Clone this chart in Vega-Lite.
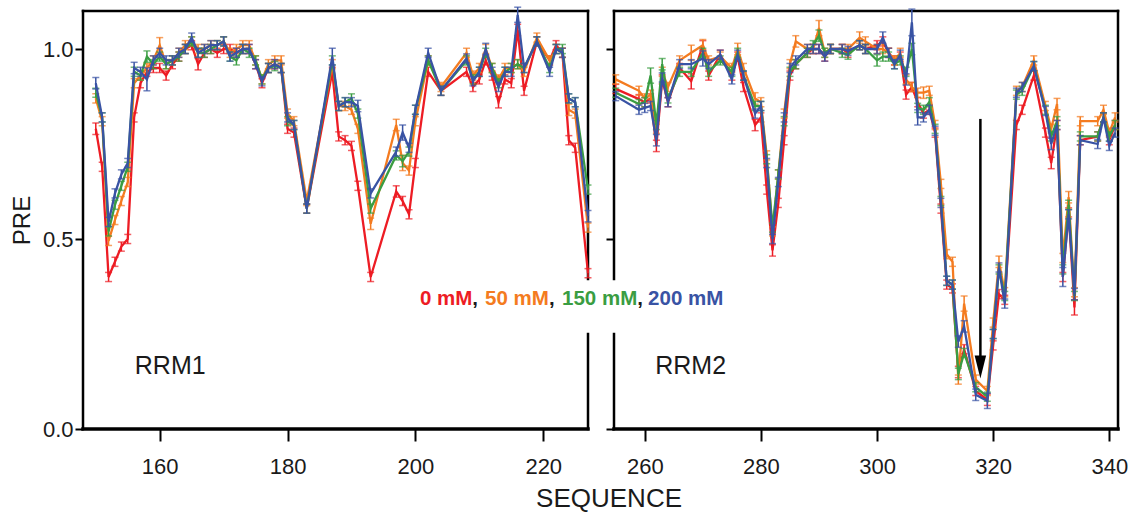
{
  "$schema": "https://vega.github.io/schema/vega-lite/v6.json",
  "background": "white",
  "padding": {"left": 10, "top": 6, "right": 0, "bottom": 0},
  "config": {
    "view": {"stroke": null},
    "axis": {"grid": false, "domain": false, "labelFont": "Liberation Sans", "labelFontSize": 22, "labelColor": "#1a1a1a", "tickColor": "#000000", "tickWidth": 2, "titleFont": "Liberation Sans", "titleFontSize": 24, "titleFontWeight": "normal", "titleColor": "#1a1a1a"},
    "text": {"font": "Liberation Sans"}
  },
  "title": {"text": "SEQUENCE", "orient": "bottom", "anchor": "middle", "font": "Liberation Sans", "fontSize": 26, "fontWeight": "normal", "color": "#1a1a1a", "offset": 9, "dx": 40},
  "spacing": 26,
  "bounds": "flush",
  "datasets": {
    "notes": [
      {"kind": "frame", "panel": "RRM1", "res": 148, "res2": 148, "pre": 0, "pre2": 1.1},
      {"kind": "frame", "panel": "RRM1", "res": 148, "res2": 227, "pre": 1.1, "pre2": 1.1},
      {"kind": "frame", "panel": "RRM1", "res": 227, "res2": 227, "pre": 1.1, "pre2": 0.395},
      {"kind": "frame", "panel": "RRM1", "res": 227, "res2": 227, "pre": 0.25, "pre2": 0},
      {"kind": "base", "panel": "RRM1", "res": 148, "res2": 227, "pre": 0, "pre2": 0},
      {"kind": "frame", "panel": "RRM2", "res": 254.7, "res2": 254.7, "pre": 1.1, "pre2": 0.395},
      {"kind": "frame", "panel": "RRM2", "res": 254.7, "res2": 254.7, "pre": 0.25, "pre2": 0},
      {"kind": "frame", "panel": "RRM2", "res": 254.7, "res2": 341.5, "pre": 1.1, "pre2": 1.1},
      {"kind": "frame", "panel": "RRM2", "res": 341.5, "res2": 341.5, "pre": 1.1, "pre2": 0},
      {"kind": "base", "panel": "RRM2", "res": 254.7, "res2": 341.5, "pre": 0, "pre2": 0},
      {"kind": "name", "panel": "RRM1", "res": 156.1, "pre": 0.166, "label": "RRM1"},
      {"kind": "name", "panel": "RRM2", "res": 261.8, "pre": 0.166, "label": "RRM2"},
      {"kind": "legend", "panel": "RRM1", "res": 200.72, "pre": 0.342, "label": "0 mM", "salt": "0 mM"},
      {"kind": "comma", "panel": "RRM1", "res": 208.9, "pre": 0.342, "label": ","},
      {"kind": "legend", "panel": "RRM1", "res": 210.9, "pre": 0.342, "label": "50 mM", "salt": "50 mM"},
      {"kind": "comma", "panel": "RRM1", "res": 220.9, "pre": 0.342, "label": ","},
      {"kind": "legend", "panel": "RRM1", "res": 222.94, "pre": 0.342, "label": "150 mM", "salt": "150 mM"},
      {"kind": "comma", "panel": "RRM1", "res": 234.7, "pre": 0.342, "label": ","},
      {"kind": "legend", "panel": "RRM1", "res": 236.4, "pre": 0.342, "label": "200 mM", "salt": "200 mM"},
      {"kind": "arrow", "panel": "RRM2", "res": 317.8, "pre": 0.816, "pre2": 0.19},
      {"kind": "head", "panel": "RRM2", "res": 317.8, "pre": 0.163}
    ],
    "pre": [
      {"panel":"RRM1","salt":"0 mM","res":150,"pre":0.79,"err":0.015},
      {"panel":"RRM1","salt":"0 mM","res":151,"pre":0.69,"err":0.012},
      {"panel":"RRM1","salt":"0 mM","res":152,"pre":0.40,"err":0.012},
      {"panel":"RRM1","salt":"0 mM","res":153,"pre":0.44,"err":0.012},
      {"panel":"RRM1","salt":"0 mM","res":154,"pre":0.48,"err":0.012},
      {"panel":"RRM1","salt":"0 mM","res":155,"pre":0.50,"err":0.012},
      {"panel":"RRM1","salt":"0 mM","res":156,"pre":0.82,"err":0.012},
      {"panel":"RRM1","salt":"0 mM","res":157,"pre":0.91,"err":0.012},
      {"panel":"RRM1","salt":"0 mM","res":158,"pre":0.94,"err":0.012},
      {"panel":"RRM1","salt":"0 mM","res":159,"pre":0.95,"err":0.012},
      {"panel":"RRM1","salt":"0 mM","res":160,"pre":0.95,"err":0.012},
      {"panel":"RRM1","salt":"0 mM","res":161,"pre":0.93,"err":0.012},
      {"panel":"RRM1","salt":"0 mM","res":162,"pre":0.96,"err":0.012},
      {"panel":"RRM1","salt":"0 mM","res":163,"pre":0.98,"err":0.012},
      {"panel":"RRM1","salt":"0 mM","res":164,"pre":1.00,"err":0.012},
      {"panel":"RRM1","salt":"0 mM","res":165,"pre":1.01,"err":0.012},
      {"panel":"RRM1","salt":"0 mM","res":166,"pre":0.96,"err":0.015},
      {"panel":"RRM1","salt":"0 mM","res":167,"pre":0.99,"err":0.012},
      {"panel":"RRM1","salt":"0 mM","res":168,"pre":1.00,"err":0.012},
      {"panel":"RRM1","salt":"0 mM","res":169,"pre":0.99,"err":0.012},
      {"panel":"RRM1","salt":"0 mM","res":170,"pre":1.00,"err":0.012},
      {"panel":"RRM1","salt":"0 mM","res":171,"pre":1.00,"err":0.012},
      {"panel":"RRM1","salt":"0 mM","res":172,"pre":0.99,"err":0.012},
      {"panel":"RRM1","salt":"0 mM","res":173,"pre":1.00,"err":0.012},
      {"panel":"RRM1","salt":"0 mM","res":174,"pre":1.00,"err":0.012},
      {"panel":"RRM1","salt":"0 mM","res":175,"pre":0.96,"err":0.012},
      {"panel":"RRM1","salt":"0 mM","res":176,"pre":0.91,"err":0.012},
      {"panel":"RRM1","salt":"0 mM","res":177,"pre":0.95,"err":0.012},
      {"panel":"RRM1","salt":"0 mM","res":178,"pre":0.96,"err":0.012},
      {"panel":"RRM1","salt":"0 mM","res":179,"pre":0.95,"err":0.012},
      {"panel":"RRM1","salt":"0 mM","res":180,"pre":0.79,"err":0.012},
      {"panel":"RRM1","salt":"0 mM","res":181,"pre":0.78,"err":0.012},
      {"panel":"RRM1","salt":"0 mM","res":183,"pre":0.58,"err":0.012},
      {"panel":"RRM1","salt":"0 mM","res":187,"pre":0.94,"err":0.012},
      {"panel":"RRM1","salt":"0 mM","res":188,"pre":0.77,"err":0.012},
      {"panel":"RRM1","salt":"0 mM","res":189,"pre":0.76,"err":0.012},
      {"panel":"RRM1","salt":"0 mM","res":190,"pre":0.745,"err":0.012},
      {"panel":"RRM1","salt":"0 mM","res":191,"pre":0.64,"err":0.012},
      {"panel":"RRM1","salt":"0 mM","res":193,"pre":0.40,"err":0.012},
      {"panel":"RRM1","salt":"0 mM","res":197,"pre":0.625,"err":0.015},
      {"panel":"RRM1","salt":"0 mM","res":198,"pre":0.60,"err":0.012},
      {"panel":"RRM1","salt":"0 mM","res":199,"pre":0.565,"err":0.012},
      {"panel":"RRM1","salt":"0 mM","res":200,"pre":0.70,"err":0.012},
      {"panel":"RRM1","salt":"0 mM","res":202,"pre":0.94,"err":0.012},
      {"panel":"RRM1","salt":"0 mM","res":204,"pre":0.89,"err":0.012},
      {"panel":"RRM1","salt":"0 mM","res":208,"pre":0.94,"err":0.012},
      {"panel":"RRM1","salt":"0 mM","res":209,"pre":0.90,"err":0.012},
      {"panel":"RRM1","salt":"0 mM","res":210,"pre":0.92,"err":0.012},
      {"panel":"RRM1","salt":"0 mM","res":211,"pre":0.97,"err":0.012},
      {"panel":"RRM1","salt":"0 mM","res":212,"pre":0.93,"err":0.012},
      {"panel":"RRM1","salt":"0 mM","res":213,"pre":0.86,"err":0.015},
      {"panel":"RRM1","salt":"0 mM","res":214,"pre":0.92,"err":0.012},
      {"panel":"RRM1","salt":"0 mM","res":215,"pre":0.91,"err":0.012},
      {"panel":"RRM1","salt":"0 mM","res":216,"pre":1.05,"err":0.015},
      {"panel":"RRM1","salt":"0 mM","res":217,"pre":0.89,"err":0.012},
      {"panel":"RRM1","salt":"0 mM","res":219,"pre":1.02,"err":0.012},
      {"panel":"RRM1","salt":"0 mM","res":221,"pre":0.97,"err":0.012},
      {"panel":"RRM1","salt":"0 mM","res":222,"pre":1.01,"err":0.012},
      {"panel":"RRM1","salt":"0 mM","res":223,"pre":0.99,"err":0.012},
      {"panel":"RRM1","salt":"0 mM","res":224,"pre":0.76,"err":0.012},
      {"panel":"RRM1","salt":"0 mM","res":225,"pre":0.74,"err":0.012},
      {"panel":"RRM1","salt":"0 mM","res":227,"pre":0.41,"err":0.012},

      {"panel":"RRM1","salt":"50 mM","res":150,"pre":0.87,"err":0.012},
      {"panel":"RRM1","salt":"50 mM","res":151,"pre":0.81,"err":0.012},
      {"panel":"RRM1","salt":"50 mM","res":152,"pre":0.495,"err":0.012},
      {"panel":"RRM1","salt":"50 mM","res":153,"pre":0.55,"err":0.012},
      {"panel":"RRM1","salt":"50 mM","res":154,"pre":0.60,"err":0.012},
      {"panel":"RRM1","salt":"50 mM","res":155,"pre":0.65,"err":0.012},
      {"panel":"RRM1","salt":"50 mM","res":156,"pre":0.91,"err":0.012},
      {"panel":"RRM1","salt":"50 mM","res":157,"pre":0.93,"err":0.012},
      {"panel":"RRM1","salt":"50 mM","res":158,"pre":0.95,"err":0.012},
      {"panel":"RRM1","salt":"50 mM","res":159,"pre":0.97,"err":0.012},
      {"panel":"RRM1","salt":"50 mM","res":160,"pre":1.01,"err":0.02},
      {"panel":"RRM1","salt":"50 mM","res":161,"pre":0.96,"err":0.012},
      {"panel":"RRM1","salt":"50 mM","res":162,"pre":0.97,"err":0.012},
      {"panel":"RRM1","salt":"50 mM","res":163,"pre":0.99,"err":0.012},
      {"panel":"RRM1","salt":"50 mM","res":164,"pre":1.01,"err":0.012},
      {"panel":"RRM1","salt":"50 mM","res":165,"pre":1.02,"err":0.012},
      {"panel":"RRM1","salt":"50 mM","res":166,"pre":1.00,"err":0.012},
      {"panel":"RRM1","salt":"50 mM","res":167,"pre":1.00,"err":0.012},
      {"panel":"RRM1","salt":"50 mM","res":168,"pre":1.01,"err":0.012},
      {"panel":"RRM1","salt":"50 mM","res":169,"pre":1.01,"err":0.012},
      {"panel":"RRM1","salt":"50 mM","res":170,"pre":1.02,"err":0.012},
      {"panel":"RRM1","salt":"50 mM","res":171,"pre":0.99,"err":0.012},
      {"panel":"RRM1","salt":"50 mM","res":172,"pre":1.00,"err":0.012},
      {"panel":"RRM1","salt":"50 mM","res":173,"pre":1.01,"err":0.012},
      {"panel":"RRM1","salt":"50 mM","res":174,"pre":1.01,"err":0.012},
      {"panel":"RRM1","salt":"50 mM","res":175,"pre":0.97,"err":0.012},
      {"panel":"RRM1","salt":"50 mM","res":176,"pre":0.92,"err":0.012},
      {"panel":"RRM1","salt":"50 mM","res":177,"pre":0.96,"err":0.012},
      {"panel":"RRM1","salt":"50 mM","res":178,"pre":0.97,"err":0.012},
      {"panel":"RRM1","salt":"50 mM","res":179,"pre":0.97,"err":0.012},
      {"panel":"RRM1","salt":"50 mM","res":180,"pre":0.83,"err":0.012},
      {"panel":"RRM1","salt":"50 mM","res":181,"pre":0.81,"err":0.012},
      {"panel":"RRM1","salt":"50 mM","res":183,"pre":0.60,"err":0.012},
      {"panel":"RRM1","salt":"50 mM","res":187,"pre":0.96,"err":0.012},
      {"panel":"RRM1","salt":"50 mM","res":188,"pre":0.85,"err":0.012},
      {"panel":"RRM1","salt":"50 mM","res":189,"pre":0.85,"err":0.012},
      {"panel":"RRM1","salt":"50 mM","res":190,"pre":0.84,"err":0.012},
      {"panel":"RRM1","salt":"50 mM","res":191,"pre":0.79,"err":0.012},
      {"panel":"RRM1","salt":"50 mM","res":193,"pre":0.54,"err":0.015},
      {"panel":"RRM1","salt":"50 mM","res":197,"pre":0.80,"err":0.015},
      {"panel":"RRM1","salt":"50 mM","res":198,"pre":0.70,"err":0.02},
      {"panel":"RRM1","salt":"50 mM","res":199,"pre":0.68,"err":0.012},
      {"panel":"RRM1","salt":"50 mM","res":200,"pre":0.81,"err":0.012},
      {"panel":"RRM1","salt":"50 mM","res":202,"pre":0.97,"err":0.012},
      {"panel":"RRM1","salt":"50 mM","res":204,"pre":0.90,"err":0.012},
      {"panel":"RRM1","salt":"50 mM","res":208,"pre":0.99,"err":0.012},
      {"panel":"RRM1","salt":"50 mM","res":209,"pre":0.93,"err":0.012},
      {"panel":"RRM1","salt":"50 mM","res":210,"pre":0.95,"err":0.012},
      {"panel":"RRM1","salt":"50 mM","res":211,"pre":1.00,"err":0.012},
      {"panel":"RRM1","salt":"50 mM","res":212,"pre":0.95,"err":0.012},
      {"panel":"RRM1","salt":"50 mM","res":213,"pre":0.92,"err":0.012},
      {"panel":"RRM1","salt":"50 mM","res":214,"pre":0.95,"err":0.012},
      {"panel":"RRM1","salt":"50 mM","res":215,"pre":0.95,"err":0.012},
      {"panel":"RRM1","salt":"50 mM","res":216,"pre":0.96,"err":0.012},
      {"panel":"RRM1","salt":"50 mM","res":217,"pre":0.94,"err":0.012},
      {"panel":"RRM1","salt":"50 mM","res":219,"pre":1.03,"err":0.012},
      {"panel":"RRM1","salt":"50 mM","res":221,"pre":0.97,"err":0.012},
      {"panel":"RRM1","salt":"50 mM","res":222,"pre":1.00,"err":0.012},
      {"panel":"RRM1","salt":"50 mM","res":223,"pre":0.99,"err":0.012},
      {"panel":"RRM1","salt":"50 mM","res":224,"pre":0.84,"err":0.015},
      {"panel":"RRM1","salt":"50 mM","res":225,"pre":0.83,"err":0.012},
      {"panel":"RRM1","salt":"50 mM","res":227,"pre":0.53,"err":0.012},

      {"panel":"RRM1","salt":"150 mM","res":150,"pre":0.885,"err":0.012},
      {"panel":"RRM1","salt":"150 mM","res":151,"pre":0.82,"err":0.012},
      {"panel":"RRM1","salt":"150 mM","res":152,"pre":0.52,"err":0.012},
      {"panel":"RRM1","salt":"150 mM","res":153,"pre":0.59,"err":0.012},
      {"panel":"RRM1","salt":"150 mM","res":154,"pre":0.64,"err":0.012},
      {"panel":"RRM1","salt":"150 mM","res":155,"pre":0.69,"err":0.012},
      {"panel":"RRM1","salt":"150 mM","res":156,"pre":0.94,"err":0.012},
      {"panel":"RRM1","salt":"150 mM","res":157,"pre":0.93,"err":0.012},
      {"panel":"RRM1","salt":"150 mM","res":158,"pre":0.98,"err":0.015},
      {"panel":"RRM1","salt":"150 mM","res":159,"pre":0.96,"err":0.012},
      {"panel":"RRM1","salt":"150 mM","res":160,"pre":0.98,"err":0.012},
      {"panel":"RRM1","salt":"150 mM","res":161,"pre":0.96,"err":0.012},
      {"panel":"RRM1","salt":"150 mM","res":162,"pre":0.97,"err":0.012},
      {"panel":"RRM1","salt":"150 mM","res":163,"pre":0.98,"err":0.012},
      {"panel":"RRM1","salt":"150 mM","res":164,"pre":1.00,"err":0.012},
      {"panel":"RRM1","salt":"150 mM","res":165,"pre":1.02,"err":0.012},
      {"panel":"RRM1","salt":"150 mM","res":166,"pre":0.99,"err":0.012},
      {"panel":"RRM1","salt":"150 mM","res":167,"pre":0.99,"err":0.012},
      {"panel":"RRM1","salt":"150 mM","res":168,"pre":1.00,"err":0.012},
      {"panel":"RRM1","salt":"150 mM","res":169,"pre":1.01,"err":0.012},
      {"panel":"RRM1","salt":"150 mM","res":170,"pre":1.02,"err":0.012},
      {"panel":"RRM1","salt":"150 mM","res":171,"pre":0.98,"err":0.012},
      {"panel":"RRM1","salt":"150 mM","res":172,"pre":0.97,"err":0.012},
      {"panel":"RRM1","salt":"150 mM","res":173,"pre":1.00,"err":0.012},
      {"panel":"RRM1","salt":"150 mM","res":174,"pre":0.99,"err":0.012},
      {"panel":"RRM1","salt":"150 mM","res":175,"pre":0.97,"err":0.012},
      {"panel":"RRM1","salt":"150 mM","res":176,"pre":0.92,"err":0.012},
      {"panel":"RRM1","salt":"150 mM","res":177,"pre":0.95,"err":0.012},
      {"panel":"RRM1","salt":"150 mM","res":178,"pre":0.955,"err":0.012},
      {"panel":"RRM1","salt":"150 mM","res":179,"pre":0.95,"err":0.012},
      {"panel":"RRM1","salt":"150 mM","res":180,"pre":0.81,"err":0.012},
      {"panel":"RRM1","salt":"150 mM","res":181,"pre":0.80,"err":0.012},
      {"panel":"RRM1","salt":"150 mM","res":183,"pre":0.58,"err":0.012},
      {"panel":"RRM1","salt":"150 mM","res":187,"pre":0.97,"err":0.012},
      {"panel":"RRM1","salt":"150 mM","res":188,"pre":0.85,"err":0.012},
      {"panel":"RRM1","salt":"150 mM","res":189,"pre":0.86,"err":0.012},
      {"panel":"RRM1","salt":"150 mM","res":190,"pre":0.87,"err":0.012},
      {"panel":"RRM1","salt":"150 mM","res":191,"pre":0.83,"err":0.012},
      {"panel":"RRM1","salt":"150 mM","res":193,"pre":0.58,"err":0.012},
      {"panel":"RRM1","salt":"150 mM","res":197,"pre":0.72,"err":0.012},
      {"panel":"RRM1","salt":"150 mM","res":198,"pre":0.705,"err":0.015},
      {"panel":"RRM1","salt":"150 mM","res":199,"pre":0.73,"err":0.012},
      {"panel":"RRM1","salt":"150 mM","res":200,"pre":0.84,"err":0.012},
      {"panel":"RRM1","salt":"150 mM","res":202,"pre":0.97,"err":0.012},
      {"panel":"RRM1","salt":"150 mM","res":204,"pre":0.89,"err":0.012},
      {"panel":"RRM1","salt":"150 mM","res":208,"pre":0.97,"err":0.012},
      {"panel":"RRM1","salt":"150 mM","res":209,"pre":0.92,"err":0.012},
      {"panel":"RRM1","salt":"150 mM","res":210,"pre":0.94,"err":0.012},
      {"panel":"RRM1","salt":"150 mM","res":211,"pre":0.99,"err":0.012},
      {"panel":"RRM1","salt":"150 mM","res":212,"pre":0.95,"err":0.012},
      {"panel":"RRM1","salt":"150 mM","res":213,"pre":0.91,"err":0.012},
      {"panel":"RRM1","salt":"150 mM","res":214,"pre":0.94,"err":0.012},
      {"panel":"RRM1","salt":"150 mM","res":215,"pre":0.95,"err":0.012},
      {"panel":"RRM1","salt":"150 mM","res":216,"pre":0.96,"err":0.012},
      {"panel":"RRM1","salt":"150 mM","res":217,"pre":0.95,"err":0.012},
      {"panel":"RRM1","salt":"150 mM","res":219,"pre":1.02,"err":0.012},
      {"panel":"RRM1","salt":"150 mM","res":221,"pre":0.95,"err":0.012},
      {"panel":"RRM1","salt":"150 mM","res":222,"pre":1.00,"err":0.012},
      {"panel":"RRM1","salt":"150 mM","res":223,"pre":1.00,"err":0.012},
      {"panel":"RRM1","salt":"150 mM","res":224,"pre":0.87,"err":0.012},
      {"panel":"RRM1","salt":"150 mM","res":225,"pre":0.86,"err":0.012},
      {"panel":"RRM1","salt":"150 mM","res":227,"pre":0.63,"err":0.012},

      {"panel":"RRM1","salt":"200 mM","res":150,"pre":0.91,"err":0.015},
      {"panel":"RRM1","salt":"200 mM","res":151,"pre":0.82,"err":0.012},
      {"panel":"RRM1","salt":"200 mM","res":152,"pre":0.545,"err":0.012},
      {"panel":"RRM1","salt":"200 mM","res":153,"pre":0.62,"err":0.012},
      {"panel":"RRM1","salt":"200 mM","res":154,"pre":0.67,"err":0.012},
      {"panel":"RRM1","salt":"200 mM","res":155,"pre":0.70,"err":0.012},
      {"panel":"RRM1","salt":"200 mM","res":156,"pre":0.95,"err":0.015},
      {"panel":"RRM1","salt":"200 mM","res":157,"pre":0.94,"err":0.012},
      {"panel":"RRM1","salt":"200 mM","res":158,"pre":0.92,"err":0.03},
      {"panel":"RRM1","salt":"200 mM","res":159,"pre":0.97,"err":0.012},
      {"panel":"RRM1","salt":"200 mM","res":160,"pre":0.99,"err":0.012},
      {"panel":"RRM1","salt":"200 mM","res":161,"pre":0.97,"err":0.012},
      {"panel":"RRM1","salt":"200 mM","res":162,"pre":0.97,"err":0.012},
      {"panel":"RRM1","salt":"200 mM","res":163,"pre":0.99,"err":0.012},
      {"panel":"RRM1","salt":"200 mM","res":164,"pre":1.00,"err":0.012},
      {"panel":"RRM1","salt":"200 mM","res":165,"pre":1.03,"err":0.012},
      {"panel":"RRM1","salt":"200 mM","res":166,"pre":0.99,"err":0.012},
      {"panel":"RRM1","salt":"200 mM","res":167,"pre":1.00,"err":0.012},
      {"panel":"RRM1","salt":"200 mM","res":168,"pre":1.01,"err":0.012},
      {"panel":"RRM1","salt":"200 mM","res":169,"pre":1.01,"err":0.012},
      {"panel":"RRM1","salt":"200 mM","res":170,"pre":1.02,"err":0.012},
      {"panel":"RRM1","salt":"200 mM","res":171,"pre":0.98,"err":0.012},
      {"panel":"RRM1","salt":"200 mM","res":172,"pre":0.99,"err":0.012},
      {"panel":"RRM1","salt":"200 mM","res":173,"pre":1.00,"err":0.012},
      {"panel":"RRM1","salt":"200 mM","res":174,"pre":1.00,"err":0.012},
      {"panel":"RRM1","salt":"200 mM","res":175,"pre":0.96,"err":0.012},
      {"panel":"RRM1","salt":"200 mM","res":176,"pre":0.915,"err":0.012},
      {"panel":"RRM1","salt":"200 mM","res":177,"pre":0.95,"err":0.012},
      {"panel":"RRM1","salt":"200 mM","res":178,"pre":0.96,"err":0.012},
      {"panel":"RRM1","salt":"200 mM","res":179,"pre":0.95,"err":0.012},
      {"panel":"RRM1","salt":"200 mM","res":180,"pre":0.82,"err":0.012},
      {"panel":"RRM1","salt":"200 mM","res":181,"pre":0.80,"err":0.012},
      {"panel":"RRM1","salt":"200 mM","res":183,"pre":0.58,"err":0.012},
      {"panel":"RRM1","salt":"200 mM","res":187,"pre":0.98,"err":0.022},
      {"panel":"RRM1","salt":"200 mM","res":188,"pre":0.85,"err":0.012},
      {"panel":"RRM1","salt":"200 mM","res":189,"pre":0.86,"err":0.012},
      {"panel":"RRM1","salt":"200 mM","res":190,"pre":0.86,"err":0.012},
      {"panel":"RRM1","salt":"200 mM","res":191,"pre":0.85,"err":0.015},
      {"panel":"RRM1","salt":"200 mM","res":193,"pre":0.62,"err":0.012},
      {"panel":"RRM1","salt":"200 mM","res":197,"pre":0.73,"err":0.012},
      {"panel":"RRM1","salt":"200 mM","res":198,"pre":0.78,"err":0.02},
      {"panel":"RRM1","salt":"200 mM","res":199,"pre":0.74,"err":0.012},
      {"panel":"RRM1","salt":"200 mM","res":200,"pre":0.84,"err":0.012},
      {"panel":"RRM1","salt":"200 mM","res":202,"pre":0.99,"err":0.012},
      {"panel":"RRM1","salt":"200 mM","res":204,"pre":0.89,"err":0.012},
      {"panel":"RRM1","salt":"200 mM","res":208,"pre":0.975,"err":0.012},
      {"panel":"RRM1","salt":"200 mM","res":209,"pre":0.915,"err":0.012},
      {"panel":"RRM1","salt":"200 mM","res":210,"pre":0.94,"err":0.012},
      {"panel":"RRM1","salt":"200 mM","res":211,"pre":1.00,"err":0.015},
      {"panel":"RRM1","salt":"200 mM","res":212,"pre":0.94,"err":0.012},
      {"panel":"RRM1","salt":"200 mM","res":213,"pre":0.90,"err":0.012},
      {"panel":"RRM1","salt":"200 mM","res":214,"pre":0.94,"err":0.012},
      {"panel":"RRM1","salt":"200 mM","res":215,"pre":0.94,"err":0.012},
      {"panel":"RRM1","salt":"200 mM","res":216,"pre":1.09,"err":0.02},
      {"panel":"RRM1","salt":"200 mM","res":217,"pre":0.95,"err":0.012},
      {"panel":"RRM1","salt":"200 mM","res":219,"pre":1.02,"err":0.012},
      {"panel":"RRM1","salt":"200 mM","res":221,"pre":0.94,"err":0.012},
      {"panel":"RRM1","salt":"200 mM","res":222,"pre":1.00,"err":0.012},
      {"panel":"RRM1","salt":"200 mM","res":223,"pre":0.99,"err":0.012},
      {"panel":"RRM1","salt":"200 mM","res":224,"pre":0.87,"err":0.012},
      {"panel":"RRM1","salt":"200 mM","res":225,"pre":0.86,"err":0.012},
      {"panel":"RRM1","salt":"200 mM","res":227,"pre":0.56,"err":0.015},

      {"panel":"RRM2","salt":"0 mM","res":255,"pre":0.895,"err":0.012},
      {"panel":"RRM2","salt":"0 mM","res":259,"pre":0.868,"err":0.012},
      {"panel":"RRM2","salt":"0 mM","res":260,"pre":0.86,"err":0.012},
      {"panel":"RRM2","salt":"0 mM","res":261,"pre":0.87,"err":0.012},
      {"panel":"RRM2","salt":"0 mM","res":262,"pre":0.745,"err":0.015},
      {"panel":"RRM2","salt":"0 mM","res":263,"pre":0.92,"err":0.012},
      {"panel":"RRM2","salt":"0 mM","res":264,"pre":0.86,"err":0.012},
      {"panel":"RRM2","salt":"0 mM","res":266,"pre":0.95,"err":0.012},
      {"panel":"RRM2","salt":"0 mM","res":268,"pre":0.915,"err":0.02},
      {"panel":"RRM2","salt":"0 mM","res":270,"pre":1.01,"err":0.012},
      {"panel":"RRM2","salt":"0 mM","res":271,"pre":0.93,"err":0.012},
      {"panel":"RRM2","salt":"0 mM","res":273,"pre":0.985,"err":0.012},
      {"panel":"RRM2","salt":"0 mM","res":275,"pre":0.93,"err":0.012},
      {"panel":"RRM2","salt":"0 mM","res":276,"pre":0.98,"err":0.012},
      {"panel":"RRM2","salt":"0 mM","res":277,"pre":0.90,"err":0.012},
      {"panel":"RRM2","salt":"0 mM","res":279,"pre":0.80,"err":0.015},
      {"panel":"RRM2","salt":"0 mM","res":280,"pre":0.82,"err":0.012},
      {"panel":"RRM2","salt":"0 mM","res":281,"pre":0.63,"err":0.012},
      {"panel":"RRM2","salt":"0 mM","res":282,"pre":0.47,"err":0.015},
      {"panel":"RRM2","salt":"0 mM","res":283,"pre":0.595,"err":0.012},
      {"panel":"RRM2","salt":"0 mM","res":284,"pre":0.76,"err":0.012},
      {"panel":"RRM2","salt":"0 mM","res":285,"pre":0.93,"err":0.012},
      {"panel":"RRM2","salt":"0 mM","res":286,"pre":0.96,"err":0.012},
      {"panel":"RRM2","salt":"0 mM","res":288,"pre":0.99,"err":0.012},
      {"panel":"RRM2","salt":"0 mM","res":289,"pre":1.00,"err":0.012},
      {"panel":"RRM2","salt":"0 mM","res":290,"pre":1.00,"err":0.012},
      {"panel":"RRM2","salt":"0 mM","res":291,"pre":0.98,"err":0.012},
      {"panel":"RRM2","salt":"0 mM","res":292,"pre":1.00,"err":0.012},
      {"panel":"RRM2","salt":"0 mM","res":294,"pre":1.00,"err":0.012},
      {"panel":"RRM2","salt":"0 mM","res":295,"pre":0.99,"err":0.012},
      {"panel":"RRM2","salt":"0 mM","res":297,"pre":1.01,"err":0.012},
      {"panel":"RRM2","salt":"0 mM","res":298,"pre":1.00,"err":0.012},
      {"panel":"RRM2","salt":"0 mM","res":300,"pre":1.01,"err":0.012},
      {"panel":"RRM2","salt":"0 mM","res":301,"pre":1.02,"err":0.012},
      {"panel":"RRM2","salt":"0 mM","res":302,"pre":0.99,"err":0.012},
      {"panel":"RRM2","salt":"0 mM","res":303,"pre":0.97,"err":0.012},
      {"panel":"RRM2","salt":"0 mM","res":304,"pre":0.98,"err":0.012},
      {"panel":"RRM2","salt":"0 mM","res":305,"pre":0.88,"err":0.012},
      {"panel":"RRM2","salt":"0 mM","res":306,"pre":0.90,"err":0.012},
      {"panel":"RRM2","salt":"0 mM","res":307,"pre":0.86,"err":0.012},
      {"panel":"RRM2","salt":"0 mM","res":308,"pre":0.83,"err":0.012},
      {"panel":"RRM2","salt":"0 mM","res":309,"pre":0.84,"err":0.012},
      {"panel":"RRM2","salt":"0 mM","res":310,"pre":0.78,"err":0.012},
      {"panel":"RRM2","salt":"0 mM","res":311,"pre":0.58,"err":0.012},
      {"panel":"RRM2","salt":"0 mM","res":312,"pre":0.38,"err":0.012},
      {"panel":"RRM2","salt":"0 mM","res":313,"pre":0.37,"err":0.012},
      {"panel":"RRM2","salt":"0 mM","res":314,"pre":0.15,"err":0.015},
      {"panel":"RRM2","salt":"0 mM","res":315,"pre":0.21,"err":0.012},
      {"panel":"RRM2","salt":"0 mM","res":317,"pre":0.10,"err":0.012},
      {"panel":"RRM2","salt":"0 mM","res":319,"pre":0.077,"err":0.015},
      {"panel":"RRM2","salt":"0 mM","res":320,"pre":0.22,"err":0.012},
      {"panel":"RRM2","salt":"0 mM","res":321,"pre":0.355,"err":0.012},
      {"panel":"RRM2","salt":"0 mM","res":322,"pre":0.34,"err":0.012},
      {"panel":"RRM2","salt":"0 mM","res":324,"pre":0.80,"err":0.012},
      {"panel":"RRM2","salt":"0 mM","res":325,"pre":0.84,"err":0.012},
      {"panel":"RRM2","salt":"0 mM","res":327,"pre":0.93,"err":0.012},
      {"panel":"RRM2","salt":"0 mM","res":329,"pre":0.78,"err":0.012},
      {"panel":"RRM2","salt":"0 mM","res":330,"pre":0.70,"err":0.015},
      {"panel":"RRM2","salt":"0 mM","res":331,"pre":0.80,"err":0.012},
      {"panel":"RRM2","salt":"0 mM","res":332,"pre":0.40,"err":0.012},
      {"panel":"RRM2","salt":"0 mM","res":333,"pre":0.57,"err":0.012},
      {"panel":"RRM2","salt":"0 mM","res":334,"pre":0.32,"err":0.02},
      {"panel":"RRM2","salt":"0 mM","res":335,"pre":0.76,"err":0.012},
      {"panel":"RRM2","salt":"0 mM","res":338,"pre":0.77,"err":0.012},
      {"panel":"RRM2","salt":"0 mM","res":339,"pre":0.82,"err":0.012},
      {"panel":"RRM2","salt":"0 mM","res":340,"pre":0.76,"err":0.012},
      {"panel":"RRM2","salt":"0 mM","res":341,"pre":0.80,"err":0.012},

      {"panel":"RRM2","salt":"50 mM","res":255,"pre":0.92,"err":0.012},
      {"panel":"RRM2","salt":"50 mM","res":259,"pre":0.89,"err":0.012},
      {"panel":"RRM2","salt":"50 mM","res":260,"pre":0.87,"err":0.012},
      {"panel":"RRM2","salt":"50 mM","res":261,"pre":0.88,"err":0.012},
      {"panel":"RRM2","salt":"50 mM","res":262,"pre":0.79,"err":0.012},
      {"panel":"RRM2","salt":"50 mM","res":263,"pre":0.94,"err":0.012},
      {"panel":"RRM2","salt":"50 mM","res":264,"pre":0.90,"err":0.012},
      {"panel":"RRM2","salt":"50 mM","res":266,"pre":0.97,"err":0.012},
      {"panel":"RRM2","salt":"50 mM","res":268,"pre":0.99,"err":0.02},
      {"panel":"RRM2","salt":"50 mM","res":270,"pre":1.01,"err":0.015},
      {"panel":"RRM2","salt":"50 mM","res":271,"pre":0.97,"err":0.012},
      {"panel":"RRM2","salt":"50 mM","res":273,"pre":0.98,"err":0.012},
      {"panel":"RRM2","salt":"50 mM","res":275,"pre":0.95,"err":0.012},
      {"panel":"RRM2","salt":"50 mM","res":276,"pre":1.00,"err":0.015},
      {"panel":"RRM2","salt":"50 mM","res":277,"pre":0.95,"err":0.012},
      {"panel":"RRM2","salt":"50 mM","res":279,"pre":0.87,"err":0.015},
      {"panel":"RRM2","salt":"50 mM","res":280,"pre":0.86,"err":0.012},
      {"panel":"RRM2","salt":"50 mM","res":281,"pre":0.72,"err":0.012},
      {"panel":"RRM2","salt":"50 mM","res":282,"pre":0.52,"err":0.012},
      {"panel":"RRM2","salt":"50 mM","res":283,"pre":0.67,"err":0.012},
      {"panel":"RRM2","salt":"50 mM","res":284,"pre":0.83,"err":0.012},
      {"panel":"RRM2","salt":"50 mM","res":285,"pre":0.96,"err":0.012},
      {"panel":"RRM2","salt":"50 mM","res":286,"pre":1.02,"err":0.015},
      {"panel":"RRM2","salt":"50 mM","res":288,"pre":1.00,"err":0.012},
      {"panel":"RRM2","salt":"50 mM","res":289,"pre":1.00,"err":0.012},
      {"panel":"RRM2","salt":"50 mM","res":290,"pre":1.055,"err":0.02},
      {"panel":"RRM2","salt":"50 mM","res":291,"pre":0.99,"err":0.012},
      {"panel":"RRM2","salt":"50 mM","res":292,"pre":1.00,"err":0.012},
      {"panel":"RRM2","salt":"50 mM","res":294,"pre":1.00,"err":0.012},
      {"panel":"RRM2","salt":"50 mM","res":295,"pre":1.00,"err":0.012},
      {"panel":"RRM2","salt":"50 mM","res":297,"pre":1.03,"err":0.015},
      {"panel":"RRM2","salt":"50 mM","res":298,"pre":1.02,"err":0.012},
      {"panel":"RRM2","salt":"50 mM","res":300,"pre":1.00,"err":0.012},
      {"panel":"RRM2","salt":"50 mM","res":301,"pre":1.00,"err":0.012},
      {"panel":"RRM2","salt":"50 mM","res":302,"pre":0.99,"err":0.012},
      {"panel":"RRM2","salt":"50 mM","res":303,"pre":0.97,"err":0.012},
      {"panel":"RRM2","salt":"50 mM","res":304,"pre":0.99,"err":0.012},
      {"panel":"RRM2","salt":"50 mM","res":305,"pre":0.92,"err":0.012},
      {"panel":"RRM2","salt":"50 mM","res":306,"pre":0.90,"err":0.012},
      {"panel":"RRM2","salt":"50 mM","res":307,"pre":0.885,"err":0.012},
      {"panel":"RRM2","salt":"50 mM","res":308,"pre":0.885,"err":0.015},
      {"panel":"RRM2","salt":"50 mM","res":309,"pre":0.89,"err":0.012},
      {"panel":"RRM2","salt":"50 mM","res":310,"pre":0.80,"err":0.012},
      {"panel":"RRM2","salt":"50 mM","res":311,"pre":0.645,"err":0.012},
      {"panel":"RRM2","salt":"50 mM","res":312,"pre":0.46,"err":0.012},
      {"panel":"RRM2","salt":"50 mM","res":313,"pre":0.44,"err":0.012},
      {"panel":"RRM2","salt":"50 mM","res":314,"pre":0.13,"err":0.012},
      {"panel":"RRM2","salt":"50 mM","res":315,"pre":0.33,"err":0.02},
      {"panel":"RRM2","salt":"50 mM","res":317,"pre":0.13,"err":0.012},
      {"panel":"RRM2","salt":"50 mM","res":319,"pre":0.10,"err":0.012},
      {"panel":"RRM2","salt":"50 mM","res":320,"pre":0.28,"err":0.012},
      {"panel":"RRM2","salt":"50 mM","res":321,"pre":0.44,"err":0.015},
      {"panel":"RRM2","salt":"50 mM","res":322,"pre":0.36,"err":0.012},
      {"panel":"RRM2","salt":"50 mM","res":324,"pre":0.89,"err":0.012},
      {"panel":"RRM2","salt":"50 mM","res":325,"pre":0.90,"err":0.012},
      {"panel":"RRM2","salt":"50 mM","res":327,"pre":0.97,"err":0.012},
      {"panel":"RRM2","salt":"50 mM","res":329,"pre":0.85,"err":0.012},
      {"panel":"RRM2","salt":"50 mM","res":330,"pre":0.79,"err":0.012},
      {"panel":"RRM2","salt":"50 mM","res":331,"pre":0.855,"err":0.015},
      {"panel":"RRM2","salt":"50 mM","res":332,"pre":0.45,"err":0.012},
      {"panel":"RRM2","salt":"50 mM","res":333,"pre":0.61,"err":0.015},
      {"panel":"RRM2","salt":"50 mM","res":334,"pre":0.36,"err":0.012},
      {"panel":"RRM2","salt":"50 mM","res":335,"pre":0.81,"err":0.012},
      {"panel":"RRM2","salt":"50 mM","res":338,"pre":0.81,"err":0.012},
      {"panel":"RRM2","salt":"50 mM","res":339,"pre":0.84,"err":0.012},
      {"panel":"RRM2","salt":"50 mM","res":340,"pre":0.78,"err":0.012},
      {"panel":"RRM2","salt":"50 mM","res":341,"pre":0.82,"err":0.012},

      {"panel":"RRM2","salt":"150 mM","res":255,"pre":0.885,"err":0.012},
      {"panel":"RRM2","salt":"150 mM","res":259,"pre":0.855,"err":0.012},
      {"panel":"RRM2","salt":"150 mM","res":260,"pre":0.86,"err":0.012},
      {"panel":"RRM2","salt":"150 mM","res":261,"pre":0.93,"err":0.02},
      {"panel":"RRM2","salt":"150 mM","res":262,"pre":0.80,"err":0.012},
      {"panel":"RRM2","salt":"150 mM","res":263,"pre":0.96,"err":0.015},
      {"panel":"RRM2","salt":"150 mM","res":264,"pre":0.87,"err":0.012},
      {"panel":"RRM2","salt":"150 mM","res":266,"pre":0.94,"err":0.012},
      {"panel":"RRM2","salt":"150 mM","res":268,"pre":0.94,"err":0.012},
      {"panel":"RRM2","salt":"150 mM","res":270,"pre":0.99,"err":0.012},
      {"panel":"RRM2","salt":"150 mM","res":271,"pre":0.94,"err":0.012},
      {"panel":"RRM2","salt":"150 mM","res":273,"pre":0.97,"err":0.012},
      {"panel":"RRM2","salt":"150 mM","res":275,"pre":0.94,"err":0.012},
      {"panel":"RRM2","salt":"150 mM","res":276,"pre":0.99,"err":0.012},
      {"panel":"RRM2","salt":"150 mM","res":277,"pre":0.93,"err":0.012},
      {"panel":"RRM2","salt":"150 mM","res":279,"pre":0.85,"err":0.012},
      {"panel":"RRM2","salt":"150 mM","res":280,"pre":0.85,"err":0.012},
      {"panel":"RRM2","salt":"150 mM","res":281,"pre":0.71,"err":0.012},
      {"panel":"RRM2","salt":"150 mM","res":282,"pre":0.53,"err":0.012},
      {"panel":"RRM2","salt":"150 mM","res":283,"pre":0.67,"err":0.012},
      {"panel":"RRM2","salt":"150 mM","res":284,"pre":0.81,"err":0.012},
      {"panel":"RRM2","salt":"150 mM","res":285,"pre":0.94,"err":0.012},
      {"panel":"RRM2","salt":"150 mM","res":286,"pre":0.96,"err":0.012},
      {"panel":"RRM2","salt":"150 mM","res":288,"pre":0.99,"err":0.012},
      {"panel":"RRM2","salt":"150 mM","res":289,"pre":1.01,"err":0.012},
      {"panel":"RRM2","salt":"150 mM","res":290,"pre":1.035,"err":0.015},
      {"panel":"RRM2","salt":"150 mM","res":291,"pre":0.99,"err":0.012},
      {"panel":"RRM2","salt":"150 mM","res":292,"pre":1.00,"err":0.012},
      {"panel":"RRM2","salt":"150 mM","res":294,"pre":0.99,"err":0.012},
      {"panel":"RRM2","salt":"150 mM","res":295,"pre":0.985,"err":0.012},
      {"panel":"RRM2","salt":"150 mM","res":297,"pre":1.01,"err":0.012},
      {"panel":"RRM2","salt":"150 mM","res":298,"pre":1.00,"err":0.012},
      {"panel":"RRM2","salt":"150 mM","res":300,"pre":0.97,"err":0.015},
      {"panel":"RRM2","salt":"150 mM","res":301,"pre":0.98,"err":0.012},
      {"panel":"RRM2","salt":"150 mM","res":302,"pre":0.98,"err":0.012},
      {"panel":"RRM2","salt":"150 mM","res":303,"pre":0.96,"err":0.012},
      {"panel":"RRM2","salt":"150 mM","res":304,"pre":0.97,"err":0.012},
      {"panel":"RRM2","salt":"150 mM","res":305,"pre":0.94,"err":0.012},
      {"panel":"RRM2","salt":"150 mM","res":306,"pre":1.00,"err":0.015},
      {"panel":"RRM2","salt":"150 mM","res":307,"pre":0.845,"err":0.012},
      {"panel":"RRM2","salt":"150 mM","res":308,"pre":0.84,"err":0.012},
      {"panel":"RRM2","salt":"150 mM","res":309,"pre":0.86,"err":0.012},
      {"panel":"RRM2","salt":"150 mM","res":310,"pre":0.79,"err":0.012},
      {"panel":"RRM2","salt":"150 mM","res":311,"pre":0.60,"err":0.012},
      {"panel":"RRM2","salt":"150 mM","res":312,"pre":0.39,"err":0.012},
      {"panel":"RRM2","salt":"150 mM","res":313,"pre":0.38,"err":0.012},
      {"panel":"RRM2","salt":"150 mM","res":314,"pre":0.145,"err":0.015},
      {"panel":"RRM2","salt":"150 mM","res":315,"pre":0.20,"err":0.012},
      {"panel":"RRM2","salt":"150 mM","res":317,"pre":0.11,"err":0.012},
      {"panel":"RRM2","salt":"150 mM","res":319,"pre":0.085,"err":0.012},
      {"panel":"RRM2","salt":"150 mM","res":320,"pre":0.25,"err":0.012},
      {"panel":"RRM2","salt":"150 mM","res":321,"pre":0.42,"err":0.012},
      {"panel":"RRM2","salt":"150 mM","res":322,"pre":0.35,"err":0.012},
      {"panel":"RRM2","salt":"150 mM","res":324,"pre":0.88,"err":0.012},
      {"panel":"RRM2","salt":"150 mM","res":325,"pre":0.89,"err":0.012},
      {"panel":"RRM2","salt":"150 mM","res":327,"pre":0.955,"err":0.012},
      {"panel":"RRM2","salt":"150 mM","res":329,"pre":0.84,"err":0.012},
      {"panel":"RRM2","salt":"150 mM","res":330,"pre":0.77,"err":0.012},
      {"panel":"RRM2","salt":"150 mM","res":331,"pre":0.81,"err":0.012},
      {"panel":"RRM2","salt":"150 mM","res":332,"pre":0.42,"err":0.012},
      {"panel":"RRM2","salt":"150 mM","res":333,"pre":0.59,"err":0.012},
      {"panel":"RRM2","salt":"150 mM","res":334,"pre":0.35,"err":0.012},
      {"panel":"RRM2","salt":"150 mM","res":335,"pre":0.77,"err":0.012},
      {"panel":"RRM2","salt":"150 mM","res":338,"pre":0.77,"err":0.012},
      {"panel":"RRM2","salt":"150 mM","res":339,"pre":0.82,"err":0.012},
      {"panel":"RRM2","salt":"150 mM","res":340,"pre":0.77,"err":0.012},
      {"panel":"RRM2","salt":"150 mM","res":341,"pre":0.80,"err":0.012},

      {"panel":"RRM2","salt":"200 mM","res":255,"pre":0.876,"err":0.012},
      {"panel":"RRM2","salt":"200 mM","res":259,"pre":0.84,"err":0.012},
      {"panel":"RRM2","salt":"200 mM","res":260,"pre":0.845,"err":0.012},
      {"panel":"RRM2","salt":"200 mM","res":261,"pre":0.85,"err":0.012},
      {"panel":"RRM2","salt":"200 mM","res":262,"pre":0.76,"err":0.015},
      {"panel":"RRM2","salt":"200 mM","res":263,"pre":0.925,"err":0.012},
      {"panel":"RRM2","salt":"200 mM","res":264,"pre":0.86,"err":0.012},
      {"panel":"RRM2","salt":"200 mM","res":266,"pre":0.96,"err":0.012},
      {"panel":"RRM2","salt":"200 mM","res":268,"pre":0.96,"err":0.012},
      {"panel":"RRM2","salt":"200 mM","res":270,"pre":0.975,"err":0.02},
      {"panel":"RRM2","salt":"200 mM","res":271,"pre":0.96,"err":0.012},
      {"panel":"RRM2","salt":"200 mM","res":273,"pre":0.985,"err":0.012},
      {"panel":"RRM2","salt":"200 mM","res":275,"pre":0.92,"err":0.012},
      {"panel":"RRM2","salt":"200 mM","res":276,"pre":0.985,"err":0.012},
      {"panel":"RRM2","salt":"200 mM","res":277,"pre":0.93,"err":0.012},
      {"panel":"RRM2","salt":"200 mM","res":279,"pre":0.83,"err":0.012},
      {"panel":"RRM2","salt":"200 mM","res":280,"pre":0.85,"err":0.012},
      {"panel":"RRM2","salt":"200 mM","res":281,"pre":0.70,"err":0.012},
      {"panel":"RRM2","salt":"200 mM","res":282,"pre":0.50,"err":0.012},
      {"panel":"RRM2","salt":"200 mM","res":283,"pre":0.65,"err":0.012},
      {"panel":"RRM2","salt":"200 mM","res":284,"pre":0.82,"err":0.012},
      {"panel":"RRM2","salt":"200 mM","res":285,"pre":0.95,"err":0.012},
      {"panel":"RRM2","salt":"200 mM","res":286,"pre":0.97,"err":0.012},
      {"panel":"RRM2","salt":"200 mM","res":288,"pre":1.00,"err":0.012},
      {"panel":"RRM2","salt":"200 mM","res":289,"pre":1.00,"err":0.012},
      {"panel":"RRM2","salt":"200 mM","res":290,"pre":1.00,"err":0.012},
      {"panel":"RRM2","salt":"200 mM","res":291,"pre":0.98,"err":0.012},
      {"panel":"RRM2","salt":"200 mM","res":292,"pre":1.00,"err":0.012},
      {"panel":"RRM2","salt":"200 mM","res":294,"pre":1.00,"err":0.012},
      {"panel":"RRM2","salt":"200 mM","res":295,"pre":0.995,"err":0.012},
      {"panel":"RRM2","salt":"200 mM","res":297,"pre":1.01,"err":0.012},
      {"panel":"RRM2","salt":"200 mM","res":298,"pre":1.00,"err":0.012},
      {"panel":"RRM2","salt":"200 mM","res":300,"pre":1.00,"err":0.012},
      {"panel":"RRM2","salt":"200 mM","res":301,"pre":1.03,"err":0.015},
      {"panel":"RRM2","salt":"200 mM","res":302,"pre":0.99,"err":0.012},
      {"panel":"RRM2","salt":"200 mM","res":303,"pre":0.96,"err":0.012},
      {"panel":"RRM2","salt":"200 mM","res":304,"pre":0.985,"err":0.012},
      {"panel":"RRM2","salt":"200 mM","res":305,"pre":0.92,"err":0.015},
      {"panel":"RRM2","salt":"200 mM","res":306,"pre":1.07,"err":0.035},
      {"panel":"RRM2","salt":"200 mM","res":307,"pre":0.82,"err":0.02},
      {"panel":"RRM2","salt":"200 mM","res":308,"pre":0.82,"err":0.012},
      {"panel":"RRM2","salt":"200 mM","res":309,"pre":0.84,"err":0.012},
      {"panel":"RRM2","salt":"200 mM","res":310,"pre":0.785,"err":0.012},
      {"panel":"RRM2","salt":"200 mM","res":311,"pre":0.595,"err":0.012},
      {"panel":"RRM2","salt":"200 mM","res":312,"pre":0.39,"err":0.012},
      {"panel":"RRM2","salt":"200 mM","res":313,"pre":0.38,"err":0.012},
      {"panel":"RRM2","salt":"200 mM","res":314,"pre":0.23,"err":0.015},
      {"panel":"RRM2","salt":"200 mM","res":315,"pre":0.27,"err":0.015},
      {"panel":"RRM2","salt":"200 mM","res":317,"pre":0.09,"err":0.015},
      {"panel":"RRM2","salt":"200 mM","res":319,"pre":0.074,"err":0.02},
      {"panel":"RRM2","salt":"200 mM","res":320,"pre":0.25,"err":0.012},
      {"panel":"RRM2","salt":"200 mM","res":321,"pre":0.425,"err":0.012},
      {"panel":"RRM2","salt":"200 mM","res":322,"pre":0.33,"err":0.012},
      {"panel":"RRM2","salt":"200 mM","res":324,"pre":0.885,"err":0.012},
      {"panel":"RRM2","salt":"200 mM","res":325,"pre":0.90,"err":0.012},
      {"panel":"RRM2","salt":"200 mM","res":327,"pre":0.955,"err":0.012},
      {"panel":"RRM2","salt":"200 mM","res":329,"pre":0.837,"err":0.012},
      {"panel":"RRM2","salt":"200 mM","res":330,"pre":0.75,"err":0.015},
      {"panel":"RRM2","salt":"200 mM","res":331,"pre":0.80,"err":0.012},
      {"panel":"RRM2","salt":"200 mM","res":332,"pre":0.40,"err":0.025},
      {"panel":"RRM2","salt":"200 mM","res":333,"pre":0.565,"err":0.012},
      {"panel":"RRM2","salt":"200 mM","res":334,"pre":0.355,"err":0.015},
      {"panel":"RRM2","salt":"200 mM","res":335,"pre":0.76,"err":0.012},
      {"panel":"RRM2","salt":"200 mM","res":338,"pre":0.75,"err":0.012},
      {"panel":"RRM2","salt":"200 mM","res":339,"pre":0.82,"err":0.012},
      {"panel":"RRM2","salt":"200 mM","res":340,"pre":0.745,"err":0.012},
      {"panel":"RRM2","salt":"200 mM","res":341,"pre":0.78,"err":0.012}
    ]
  },
  "hconcat": [
    {
      "width": 505,
      "height": 418,
      "data": {"name": "pre"},
      "encoding": {
        "x": {"field": "res", "type": "quantitative", "scale": {"domain": [148, 227], "nice": false, "zero": false}, "axis": {"values": [160, 180, 200, 220], "title": null, "tickSize": 12, "labelPadding": 15}},
        "y": {"field": "pre", "type": "quantitative", "scale": {"domain": [0, 1.1], "nice": false}, "axis": {"values": [0, 0.5, 1], "format": ".1f", "title": "PRE", "tickSize": 8, "labelPadding": 2, "titlePadding": 8}}
      },
      "layer": [
        {"data": {"name": "notes"}, "transform": [{"filter": "datum.panel == 'RRM1' && datum.kind == 'frame'"}], "mark": {"type": "rule", "color": "#000000", "strokeWidth": 2.5, "strokeCap": "square"}, "encoding": {"x2": {"field": "res2"}, "y2": {"field": "pre2"}}},
        {"data": {"name": "notes"}, "transform": [{"filter": "datum.panel == 'RRM1' && datum.kind == 'base'"}], "mark": {"type": "rule", "color": "#000000", "strokeWidth": 3.5, "strokeCap": "square"}, "encoding": {"x2": {"field": "res2"}, "y2": {"field": "pre2"}}},
        {
          "transform": [{"filter": "datum.panel == 'RRM1' && datum.salt == '0 mM'"}],
          "encoding": {"color": {"field": "salt", "type": "nominal", "scale": {"domain": ["0 mM", "50 mM", "150 mM", "200 mM"], "range": ["#ed1c24", "#f47b20", "#3a9d42", "#3953a4"]}, "legend": null}},
          "layer": [
            {"mark": {"type": "line", "strokeWidth": 2.3}},
            {"mark": {"type": "errorbar", "ticks": true, "size": 7, "thickness": 1.5}, "encoding": {"yError": {"field": "err"}}}
          ]
        },
        {
          "transform": [{"filter": "datum.panel == 'RRM1' && datum.salt == '50 mM'"}],
          "encoding": {"color": {"field": "salt", "type": "nominal", "scale": {"domain": ["0 mM", "50 mM", "150 mM", "200 mM"], "range": ["#ed1c24", "#f47b20", "#3a9d42", "#3953a4"]}, "legend": null}},
          "layer": [
            {"mark": {"type": "line", "strokeWidth": 2.3}},
            {"mark": {"type": "errorbar", "ticks": true, "size": 7, "thickness": 1.5}, "encoding": {"yError": {"field": "err"}}}
          ]
        },
        {
          "transform": [{"filter": "datum.panel == 'RRM1' && datum.salt == '150 mM'"}],
          "encoding": {"color": {"field": "salt", "type": "nominal", "scale": {"domain": ["0 mM", "50 mM", "150 mM", "200 mM"], "range": ["#ed1c24", "#f47b20", "#3a9d42", "#3953a4"]}, "legend": null}},
          "layer": [
            {"mark": {"type": "line", "strokeWidth": 2.3}},
            {"mark": {"type": "errorbar", "ticks": true, "size": 7, "thickness": 1.5}, "encoding": {"yError": {"field": "err"}}}
          ]
        },
        {
          "transform": [{"filter": "datum.panel == 'RRM1' && datum.salt == '200 mM'"}],
          "encoding": {"color": {"field": "salt", "type": "nominal", "scale": {"domain": ["0 mM", "50 mM", "150 mM", "200 mM"], "range": ["#ed1c24", "#f47b20", "#3a9d42", "#3953a4"]}, "legend": null}},
          "layer": [
            {"mark": {"type": "line", "strokeWidth": 2.3}},
            {"mark": {"type": "errorbar", "ticks": true, "size": 7, "thickness": 1.5}, "encoding": {"yError": {"field": "err"}}}
          ]
        },
        {"data": {"name": "notes"}, "transform": [{"filter": "datum.panel == 'RRM1' && datum.kind == 'name'"}], "mark": {"type": "text", "align": "left", "baseline": "middle", "fontSize": 25, "font": "Liberation Sans", "color": "#1a1a1a"}, "encoding": {"text": {"field": "label"}}},
        {"data": {"name": "notes"}, "transform": [{"filter": "datum.panel == 'RRM1' && datum.kind == 'legend'"}], "mark": {"type": "text", "align": "left", "baseline": "middle", "fontSize": 20.5, "fontWeight": "bold", "font": "Liberation Sans"}, "encoding": {"text": {"field": "label"}, "color": {"field": "salt", "type": "nominal", "scale": {"domain": ["0 mM", "50 mM", "150 mM", "200 mM"], "range": ["#ed1c24", "#f47b20", "#3a9d42", "#3953a4"]}, "legend": null}}},
        {"data": {"name": "notes"}, "transform": [{"filter": "datum.panel == 'RRM1' && datum.kind == 'comma'"}], "mark": {"type": "text", "align": "left", "baseline": "middle", "fontSize": 20.5, "fontWeight": "bold", "font": "Liberation Sans", "color": "#1a1a1a"}, "encoding": {"text": {"field": "label"}}}
      ]
    },
    {
      "width": 504,
      "height": 418,
      "data": {"name": "pre"},
      "encoding": {
        "x": {"field": "res", "type": "quantitative", "scale": {"domain": [254.7, 341.5], "nice": false, "zero": false}, "axis": {"values": [260, 280, 300, 320, 340], "title": null, "tickSize": 12, "labelPadding": 15}},
        "y": {"field": "pre", "type": "quantitative", "scale": {"domain": [0, 1.1], "nice": false}, "axis": {"values": [0, 0.5, 1], "labels": false, "title": null, "tickSize": 8}}
      },
      "layer": [
        {"data": {"name": "notes"}, "transform": [{"filter": "datum.panel == 'RRM2' && datum.kind == 'frame'"}], "mark": {"type": "rule", "color": "#000000", "strokeWidth": 2.5, "strokeCap": "square"}, "encoding": {"x2": {"field": "res2"}, "y2": {"field": "pre2"}}},
        {"data": {"name": "notes"}, "transform": [{"filter": "datum.panel == 'RRM2' && datum.kind == 'base'"}], "mark": {"type": "rule", "color": "#000000", "strokeWidth": 3.5, "strokeCap": "square"}, "encoding": {"x2": {"field": "res2"}, "y2": {"field": "pre2"}}},
        {
          "transform": [{"filter": "datum.panel == 'RRM2' && datum.salt == '0 mM'"}],
          "encoding": {"color": {"field": "salt", "type": "nominal", "scale": {"domain": ["0 mM", "50 mM", "150 mM", "200 mM"], "range": ["#ed1c24", "#f47b20", "#3a9d42", "#3953a4"]}, "legend": null}},
          "layer": [
            {"mark": {"type": "line", "strokeWidth": 2.3}},
            {"mark": {"type": "errorbar", "ticks": true, "size": 7, "thickness": 1.5}, "encoding": {"yError": {"field": "err"}}}
          ]
        },
        {
          "transform": [{"filter": "datum.panel == 'RRM2' && datum.salt == '50 mM'"}],
          "encoding": {"color": {"field": "salt", "type": "nominal", "scale": {"domain": ["0 mM", "50 mM", "150 mM", "200 mM"], "range": ["#ed1c24", "#f47b20", "#3a9d42", "#3953a4"]}, "legend": null}},
          "layer": [
            {"mark": {"type": "line", "strokeWidth": 2.3}},
            {"mark": {"type": "errorbar", "ticks": true, "size": 7, "thickness": 1.5}, "encoding": {"yError": {"field": "err"}}}
          ]
        },
        {
          "transform": [{"filter": "datum.panel == 'RRM2' && datum.salt == '150 mM'"}],
          "encoding": {"color": {"field": "salt", "type": "nominal", "scale": {"domain": ["0 mM", "50 mM", "150 mM", "200 mM"], "range": ["#ed1c24", "#f47b20", "#3a9d42", "#3953a4"]}, "legend": null}},
          "layer": [
            {"mark": {"type": "line", "strokeWidth": 2.3}},
            {"mark": {"type": "errorbar", "ticks": true, "size": 7, "thickness": 1.5}, "encoding": {"yError": {"field": "err"}}}
          ]
        },
        {
          "transform": [{"filter": "datum.panel == 'RRM2' && datum.salt == '200 mM'"}],
          "encoding": {"color": {"field": "salt", "type": "nominal", "scale": {"domain": ["0 mM", "50 mM", "150 mM", "200 mM"], "range": ["#ed1c24", "#f47b20", "#3a9d42", "#3953a4"]}, "legend": null}},
          "layer": [
            {"mark": {"type": "line", "strokeWidth": 2.3}},
            {"mark": {"type": "errorbar", "ticks": true, "size": 7, "thickness": 1.5}, "encoding": {"yError": {"field": "err"}}}
          ]
        },
        {"data": {"name": "notes"}, "transform": [{"filter": "datum.panel == 'RRM2' && datum.kind == 'arrow'"}], "mark": {"type": "rule", "color": "#000000", "strokeWidth": 2.5}, "encoding": {"y2": {"field": "pre2"}}},
        {"data": {"name": "notes"}, "transform": [{"filter": "datum.panel == 'RRM2' && datum.kind == 'head'"}], "mark": {"type": "point", "shape": "M-0.5,-1L0.5,-1L0,1Z", "filled": true, "color": "#000000", "opacity": 1, "size": 529}, "encoding": {}},
        {"data": {"name": "notes"}, "transform": [{"filter": "datum.panel == 'RRM2' && datum.kind == 'name'"}], "mark": {"type": "text", "align": "left", "baseline": "middle", "fontSize": 25, "font": "Liberation Sans", "color": "#1a1a1a"}, "encoding": {"text": {"field": "label"}}}
      ]
    }
  ]
}
